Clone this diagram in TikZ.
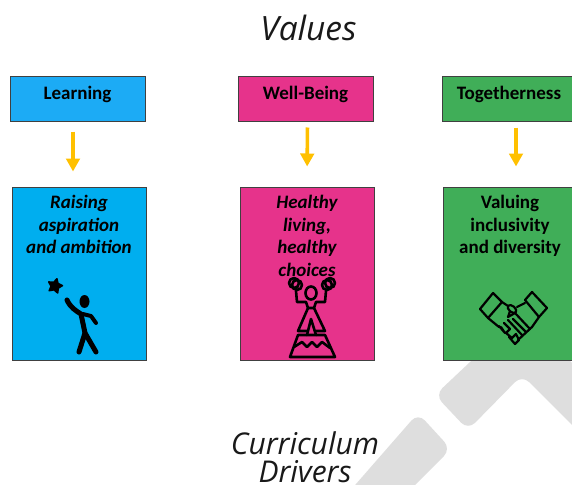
\documentclass[tikz,border=0pt]{standalone}
\usepackage{fontspec}
\setmainfont{Carlito}
\newfontfamily\titlefont{Open Sans}
\usetikzlibrary{arrows.meta,shapes.geometric}
\definecolor{learnblue}{RGB}{28,171,245}
\definecolor{raiseblue}{RGB}{0,174,239}
\definecolor{wellpink}{RGB}{230,51,139}
\definecolor{groupgreen}{RGB}{64,174,88}
\definecolor{flowgold}{RGB}{255,192,0}
\definecolor{markgray}{RGB}{222,222,222}
\tikzset{
  headbox/.style={draw=black!75,line width=1pt,minimum width=135pt,minimum height=44pt,inner sep=0pt},
  drivebox/.style={draw=black!75,line width=1pt,minimum width=134pt,minimum height=173pt,inner sep=0pt},
  headtext/.style={font=\fontsize{19}{22}\selectfont\bfseries,inner sep=0pt},
  drivetext/.style={font=\fontsize{19}{22.6}\selectfont\bfseries,align=center,anchor=north,inner sep=0pt},
  titletext/.style={font=\titlefont\fontsize{30}{28.5}\selectfont\itshape,align=center,inner sep=0pt,text=black!90},
  flow/.style={draw=flowgold,line width=3.6pt,-{Triangle[width=13.5pt,length=13pt]}},
  iconline/.style={line width=2.6pt,line join=round,line cap=round},
}
\begin{document}
\begin{tikzpicture}[x=1pt,y=-1pt]
\useasboundingbox (0,0) rectangle (572,484);
% watermark
\fill[markgray,rounded corners=10pt] (522,313) -- (590,381) -- (590,443) -- (522,375) -- (468,430) -- (435,395) -- cycle;
\fill[markgray,rounded corners=10pt] (418,413) -- (451,449) -- (400,500) -- (342,500) -- cycle;
% boxes
\node[headbox,fill=learnblue] (learning) at (77.5,99) {};
\node[headbox,fill=wellpink] (wellbeing) at (305.5,99) {};
\node[headbox,fill=groupgreen,minimum width=134pt] (together) at (509,99) {};
\node[drivebox,fill=raiseblue] (raising) at (79,273.5) {};
\node[drivebox,fill=wellpink] (healthy) at (307.5,273.5) {};
\node[drivebox,fill=groupgreen] (valuing) at (510,273.5) {};
% box texts
\node[headtext] (learnlabel) at (77.5,94) {Learning};
\node[headtext] (welllabel) at (305.5,94) {Well-Being};
\node[headtext] (togetherlabel) at (509,94) {Togetherness};
\node[drivetext] (raiselabel) at (79,195) {\itshape Raising\\\itshape aspiration\\\itshape and ambition};
\node[drivetext] (healthlabel) at (307,195) {\itshape Healthy\\\itshape living,\\\itshape healthy\\\itshape choices};
\node[drivetext] (valuelabel) at (510,195) {Valuing\\inclusivity\\and diversity};
% titles
\node[titletext,font=\titlefont\fontsize{33.5}{34}\selectfont\itshape] (valuestitle) at (308.5,28) {Values};
\node[titletext] (drivertitle) at (305,457) {Curriculum\\Drivers};
% arrows
\draw[flow,shorten <=10pt,shorten >=15pt] ([xshift=-4.5pt]learning.south) -- ([xshift=-6pt]raising.north);
\draw[flow,shorten <=6pt,shorten >=20pt] ([xshift=2pt]wellbeing.south) -- ([xshift=-.5pt]healthy.north);
\draw[flow,shorten <=6pt,shorten >=20pt] ([xshift=7pt]together.south) -- ([xshift=6pt]valuing.north);
% star and climber
\node[star,star points=5,star point ratio=1.9,fill=black,draw=black,line width=1.5pt,line join=round,inner sep=0pt,minimum size=15pt,rotate=-15] (goalstar) at (55,286) {};
\fill (84.5,301.5) ellipse (5pt and 6.5pt);
\draw[line width=5pt,line join=round,line cap=round] (67,300) .. controls (70,307) and (76,311) .. (81,314) -- (85,333);
\draw[line width=5pt,line join=round,line cap=round] (79,352) -- (85,333) -- (96,352);
\draw[line width=4pt,line join=round,line cap=round] (83,314) -- (91,316) -- (96,323);
% acrobat
\draw[iconline] (294,283) circle (5pt) (297,285) circle (5pt) (330,283) circle (5pt) (327,285) circle (5pt);
\draw[iconline] (311,293) ellipse (5.5pt and 6.5pt);
\draw[iconline] (296,291) -- (297,302) -- (306,302) -- (308,308) (326,291) -- (325,302) -- (316,302) -- (314,308) -- (308,308);
\draw[iconline] (308,308) -- (298,331) -- (307,331) (314,308) -- (325,331) -- (316,331);
\draw[iconline] (307,335) -- (311,319) -- (316,335);
\draw[iconline] (298,335) -- (325,335) -- (335,357) -- (290,357) -- cycle;
\draw[iconline] (294,347) -- (302,342) -- (307,347) -- (312,342) -- (317,347) -- (322,342) -- (330,348);
% handshake
\begin{scope}[line width=2.2pt,line join=round,line cap=round]
\draw (480,309) -- (493,293) -- (502,302) -- (488,318) -- cycle;
\draw (525,300) -- (532,292) -- (547,308) -- (539,317) -- cycle;
\draw (502,302) -- (508,306) (517,307) -- (525,303);
\draw[rotate around={-40:(512,309)}] (512,309) ellipse (5pt and 3pt);
\draw (488,318) -- (499,327) (539,317) -- (532,327) -- (518,340);
\draw (510,311) -- (508,317) -- (515,313) -- (530,329);
\draw (508,320) -- (522,335) (513,319) -- (526,332);
\draw (499,326) -- (505,333) -- (501,327) (504,323) -- (510,329) -- (506,333) -- (512,338) -- (516,334) -- (519,340) -- (515,344) -- (509,337);
\end{scope}
\end{tikzpicture}
\end{document}
